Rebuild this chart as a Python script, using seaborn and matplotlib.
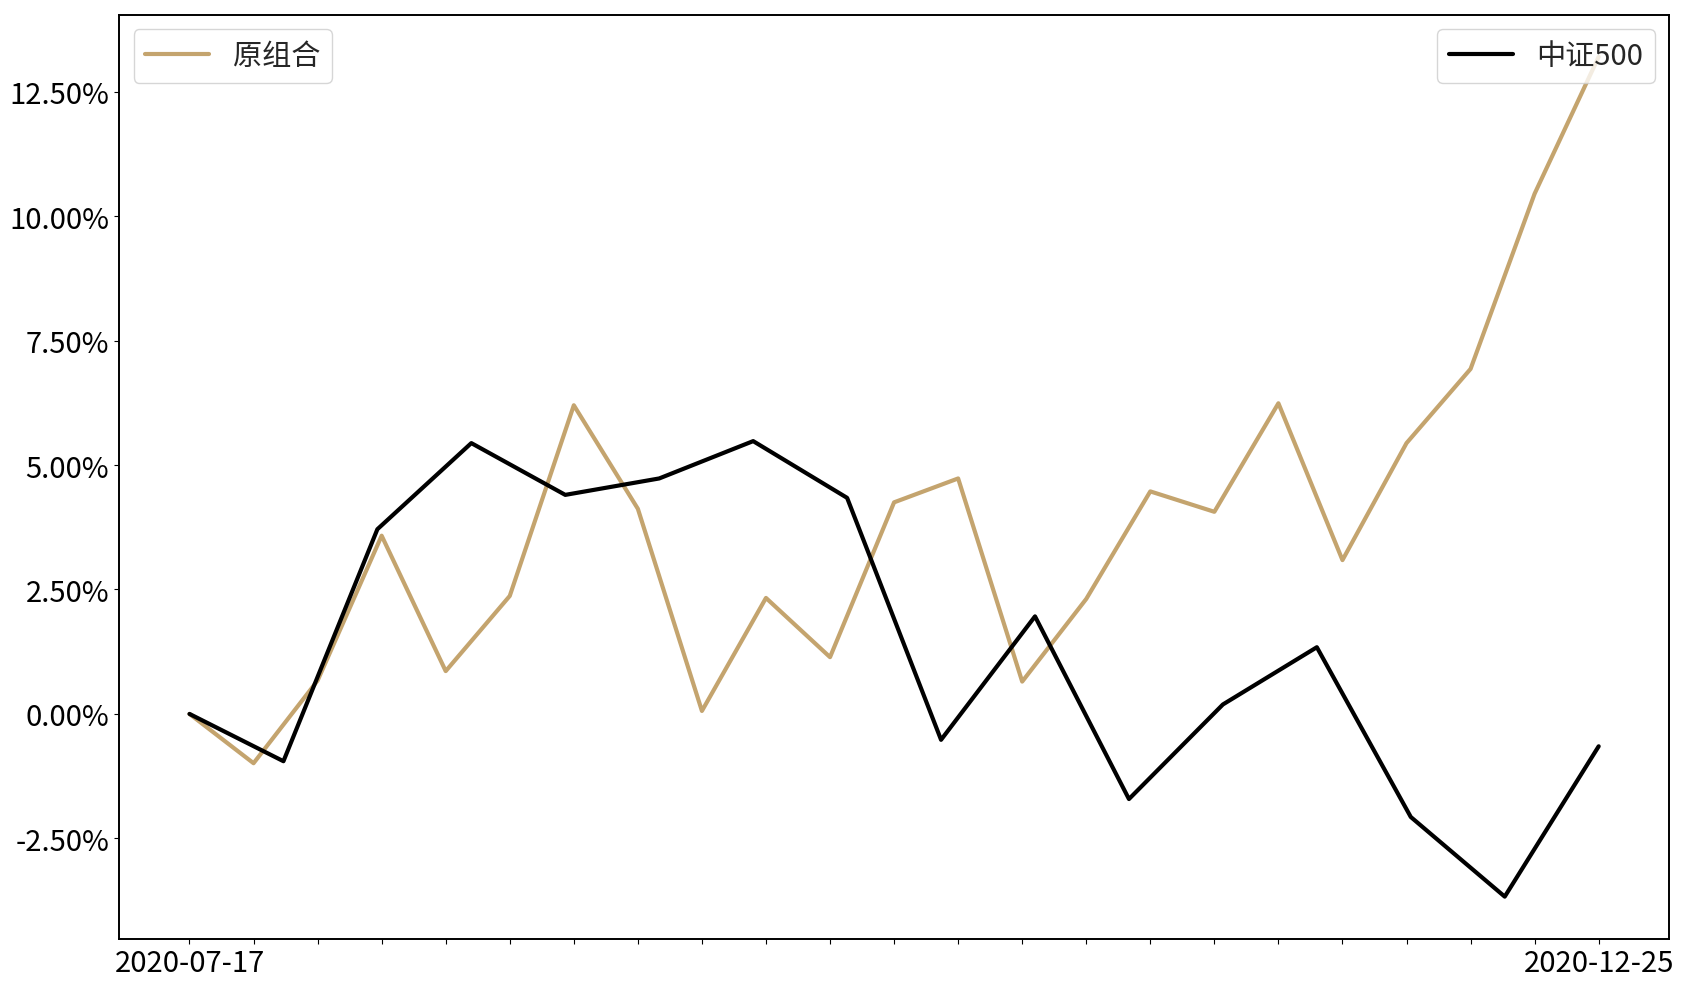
import numpy as np
import pandas as pd
import seaborn as sns
import matplotlib
matplotlib.use("Agg")
import matplotlib.pyplot as plt
from matplotlib.ticker import PercentFormatter, MultipleLocator

# 原组合 周度累计收益 (%)
port_ret = [0.00, -0.99, 0.67, 3.58, 0.86, 2.37, 6.20, 4.12, 0.06, 2.33, 1.14, 4.25,
            4.73, 0.65, 2.31, 4.47, 4.06, 6.24, 3.09, 5.44, 6.93, 10.45, 13.20]
# 中证500 累计收益 (%)
bench_ret = [0.00, -0.95, 3.71, 5.44, 4.40, 4.73, 5.48, 4.34, -0.52, 1.96, -1.71,
             0.19, 1.34, -2.07, -3.67, -0.65]
start_label = "2020-07-17"
end_label = "2020-12-25"

df1 = pd.DataFrame({"x": np.arange(len(port_ret)), "ret": port_ret})
df2 = pd.DataFrame({"x": np.arange(len(bench_ret)), "ret": bench_ret})

sns.set_style("ticks")
plt.rcParams['font.family'] = ['Noto Sans CJK SC', 'DejaVu Sans']
plt.rcParams['axes.unicode_minus'] = False

fig = plt.figure(figsize=(16.86, 9.87), dpi=100)
ax1 = fig.add_axes([0.0706, 0.048, 0.9194, 0.936])

sns.lineplot(data=df1, x="x", y="ret", ax=ax1, color="#C4A46E", linewidth=3.0, label="原组合")
ax2 = ax1.twiny()
sns.lineplot(data=df2, x="x", y="ret", ax=ax2, color="black", linewidth=3.0, label="中证500")

lo = min(min(port_ret), min(bench_ret))
hi = max(max(port_ret), max(bench_ret))
pad = (hi - lo) * 0.05
ax1.set_ylim(lo - pad, hi + pad)

n1 = len(port_ret) - 1
ax1.set_xlim(-0.05 * n1, 1.05 * n1)
n2 = len(bench_ret) - 1
ax2.set_xlim(-0.05 * n2, 1.05 * n2)

# x 轴刻度：每个数据点一个刻度，只标首尾日期
ticks = list(range(len(port_ret)))
tick_lab = [start_label] + [""] * (len(ticks) - 2) + [end_label]
ax1.set_xticks(ticks)
ax1.set_xticklabels(tick_lab)
ax2.xaxis.set_visible(False)

ax1.yaxis.set_major_locator(MultipleLocator(2.5))
ax1.yaxis.set_major_formatter(PercentFormatter(xmax=100, decimals=2))
ax1.tick_params(labelsize=21, colors="black")
ax1.set_xlabel("")
ax1.set_ylabel("")
ax2.set_xlabel("")
ax2.set_ylabel("")

for a in (ax1, ax2):
    for s in a.spines.values():
        s.set_color("black")
        s.set_linewidth(1.2)

ax1.legend(loc="upper left", fontsize=21, handlelength=2.2, borderpad=0.4)
ax2.legend(loc="upper right", fontsize=21, handlelength=2.2, borderpad=0.4)

fig.savefig("out.png", dpi=100)
